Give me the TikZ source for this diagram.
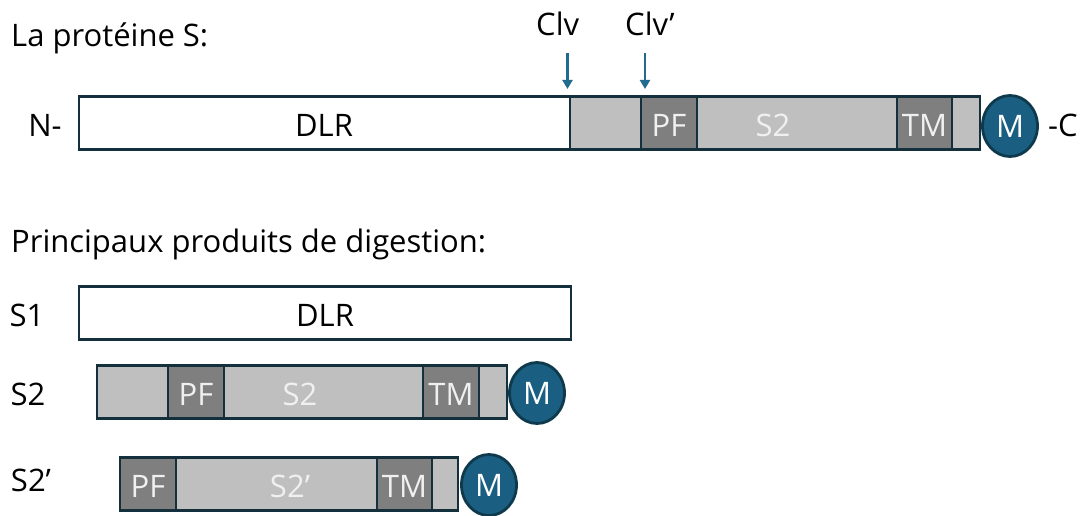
\documentclass[tikz,border=0pt]{standalone}
\usepackage{fontspec}
\setmainfont{Open Sans}
\usetikzlibrary{shapes.geometric,arrows.meta}
\definecolor{outl}{HTML}{15303D}
\definecolor{lgray}{HTML}{BFBFBF}
\definecolor{dgray}{HTML}{7F7F7F}
\definecolor{mblue}{HTML}{1A5F82}
\definecolor{mline}{HTML}{0F3A4E}
\definecolor{arr}{HTML}{236B8E}
\begin{document}
\begin{tikzpicture}[x=1pt,y=-1pt,
  txt/.style={font=\fontsize{31}{34}\selectfont, text=black, inner sep=0pt},
  seg/.style={draw=outl, line width=2.8pt, minimum height=53pt, inner sep=0pt},
  wseg/.style={seg, fill=white},
  lseg/.style={seg, fill=lgray},
  dseg/.style={seg, fill=dgray},
  wtxt/.style={font=\fontsize{31}{34}\selectfont, text=white!94!black, inner sep=0pt},
  mball/.style={ellipse, draw=mline, line width=2.8pt, fill=mblue, minimum width=55pt, minimum height=61pt, inner sep=0pt, font=\fontsize{31}{34}\selectfont, text=white},
  cleave/.style={draw=arr, line width=2.4pt, -{Triangle[length=9pt,width=10pt]}}
]
\useasboundingbox (0,0) rectangle (1085,516);

% titles
\node[txt, anchor=base west] (t1) at (11,47) {La protéine S:};
\node[txt, anchor=base west] (t2) at (11,252) {Principaux produits de digestion:};

% full protein
\node[txt] (nterm) at (45,125) {N-};
\node[wseg, minimum width=491pt] (dlr) at (324.5,123) {};
\node[lseg, minimum width=71pt] (g1) at (605.5,123) {};
\node[dseg, minimum width=56pt] (pf) at (669,123) {};
\node[lseg, minimum width=200pt] (s2) at (797,123) {};
\node[dseg, minimum width=55pt] (tm) at (924.5,123) {};
\node[lseg, minimum width=28pt] (g2) at (966,123) {};
\node[mball] (m) at (1010,126) {M};
\node[txt] (cterm) at (1063,125) {-C};
\node[txt] at (324,125) {DLR};
\node[wtxt] at (669,125) {PF};
\node[wtxt] at (773,125) {S2};
\node[wtxt] at (924.5,125) {TM};

% cleavage sites
\node[txt, anchor=base west] (clv) at (536,36) {Clv};
\node[txt, anchor=base west] (clvp) at (625,36) {Clv’};
\coordinate (a1s) at (567.5,53);
\coordinate (a1e) at (567.5,89);
\coordinate (a2s) at (645,53);
\coordinate (a2e) at (645,89);
\draw[cleave] (a1s) -- (a1e);
\draw[cleave] (a2s) -- (a2e);

% S1
\node[txt] (l1) at (27,315) {S1};
\node[wseg, minimum width=492pt] (s1dlr) at (325,313) {};
\node[txt] at (325,315) {DLR};

% S2
\node[txt] (l2) at (28,394) {S2};
\node[lseg, minimum width=71pt] (b1) at (132.5,392) {};
\node[dseg, minimum width=56pt] (b2) at (196,392) {};
\node[lseg, minimum width=199pt] (b3) at (323.5,392) {};
\node[dseg, minimum width=56pt] (b4) at (451,392) {};
\node[lseg, minimum width=28pt] (b5) at (493,392) {};
\node[mball] (bm) at (537,393) {M};
\node[wtxt] at (196,394) {PF};
\node[wtxt] at (300,394) {S2};
\node[wtxt] at (451,394) {TM};

% S2'
\node[txt] (l3) at (31,480) {S2’};
\node[dseg, minimum width=56pt] (c1) at (148,484) {};
\node[lseg, minimum width=201pt] (c2) at (276.5,484) {};
\node[dseg, minimum width=55pt] (c3) at (404.5,484) {};
\node[lseg, minimum width=26pt] (c4) at (445,484) {};
\node[mball] (cm) at (489,485) {M};
\node[wtxt] at (148,486) {PF};
\node[wtxt] at (290,486) {S2’};
\node[wtxt] at (404.5,486) {TM};
\end{tikzpicture}
\end{document}
